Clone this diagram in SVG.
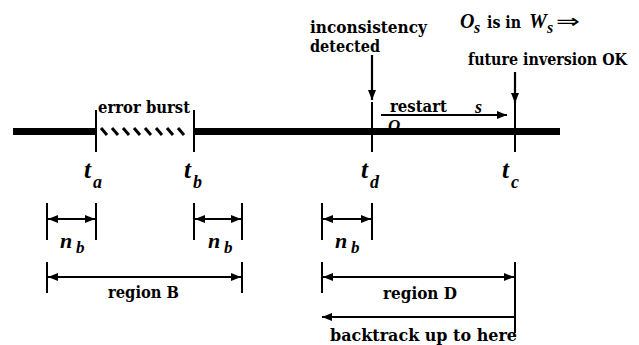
<svg xmlns="http://www.w3.org/2000/svg" width="639" height="345" viewBox="0 0 639 345">
<style>
.lbl{font-family:"DejaVu Serif","Liberation Serif",serif;font-size:16px;font-weight:bold;fill:#000}
.it{font-family:"Liberation Serif","DejaVu Serif",serif;font-style:italic;font-weight:bold;fill:#000}
.tk{stroke:#000;stroke-width:2;fill:none}
.ln{stroke:#000;stroke-width:2.2;fill:none}
</style>
<defs>
<marker id="ah" viewBox="0 0 10 8" refX="10" refY="4" markerWidth="10" markerHeight="8" markerUnits="userSpaceOnUse" orient="auto-start-reverse">
<path d="M0,0 L10,4 L0,8 Z" fill="#000"/>
</marker>
</defs>
<rect width="639" height="345" fill="#fff"/>
<text class="it" x="388" y="131" font-size="17">O</text>
<g id="timeline">
<line x1="13" y1="131.5" x2="96" y2="131.5" stroke="#000" stroke-width="7"/>
<line x1="194" y1="131.5" x2="560" y2="131.5" stroke="#000" stroke-width="7"/>
<g stroke="#000" stroke-width="3">
<line x1="101" y1="128" x2="107" y2="135"/>
<line x1="112" y1="128" x2="118" y2="135"/>
<line x1="123" y1="128" x2="129" y2="135"/>
<line x1="134" y1="128" x2="140" y2="135"/>
<line x1="145" y1="128" x2="151" y2="135"/>
<line x1="156" y1="128" x2="162" y2="135"/>
<line x1="167" y1="128" x2="173" y2="135"/>
<line x1="178" y1="128" x2="184" y2="135"/>
</g>
</g>
<g id="ticks">
<line class="tk" x1="96" y1="110" x2="96" y2="152"/>
<line class="tk" x1="194" y1="110" x2="194" y2="152"/>
<line class="tk" x1="372" y1="102" x2="372" y2="152"/>
<line class="tk" x1="515" y1="103" x2="515" y2="152"/>
</g>
<g id="error-burst"><text class="lbl" x="98" y="113" textLength="92" lengthAdjust="spacingAndGlyphs">error burst</text></g>
<g id="inconsistency">
<text class="lbl" x="310" y="33" textLength="117" lengthAdjust="spacingAndGlyphs">inconsistency</text>
<text class="lbl" x="310" y="52" textLength="70" lengthAdjust="spacingAndGlyphs">detected</text>
</g>
<g id="future">
<text class="it" x="460" y="28" font-size="20">O</text>
<text class="it" x="474" y="33" font-size="16">s</text>
<text class="lbl" x="487" y="28" textLength="34" lengthAdjust="spacingAndGlyphs">is in</text>
<text class="it" x="529" y="28" font-size="20">W</text>
<text class="it" x="547" y="33" font-size="16">s</text>
<text x="556" y="28" font-family="DejaVu Sans,sans-serif" font-size="20" textLength="24" lengthAdjust="spacingAndGlyphs">⇒</text>
<text class="lbl" x="468" y="65" textLength="159" lengthAdjust="spacingAndGlyphs">future inversion OK</text>
</g>
<g id="restart">
<text class="lbl" x="390" y="112" textLength="57" lengthAdjust="spacingAndGlyphs">restart</text>
<text class="it" x="475" y="113" font-size="18">s</text>
</g>
<g id="tlabels">
<text class="it" x="84" y="178" font-size="25">t</text><text class="it" x="93" y="188" font-size="18">a</text>
<text class="it" x="184" y="178" font-size="25">t</text><text class="it" x="193" y="188" font-size="18">b</text>
<text class="it" x="361" y="178" font-size="25">t</text><text class="it" x="370" y="188" font-size="18">d</text>
<text class="it" x="502" y="178" font-size="25">t</text><text class="it" x="511" y="188" font-size="18">c</text>
</g>
<g id="nb1">
<line class="tk" x1="47" y1="203" x2="47" y2="240"/>
<line class="tk" x1="96" y1="203" x2="96" y2="240"/>
<text class="it" x="60" y="248" font-size="22">n</text><text class="it" x="76" y="253" font-size="17">b</text>
</g>
<g id="nb2">
<line class="tk" x1="194" y1="203" x2="194" y2="240"/>
<line class="tk" x1="242" y1="203" x2="242" y2="240"/>
<text class="it" x="208" y="248" font-size="22">n</text><text class="it" x="224" y="253" font-size="17">b</text>
</g>
<g id="nb3">
<line class="tk" x1="322" y1="203" x2="322" y2="240"/>
<line class="tk" x1="372" y1="203" x2="372" y2="240"/>
<text class="it" x="335" y="248" font-size="22">n</text><text class="it" x="351" y="253" font-size="17">b</text>
</g>
<g id="regionB">
<line class="tk" x1="47" y1="262" x2="47" y2="293"/>
<line class="tk" x1="242" y1="262" x2="242" y2="293"/>
<text class="lbl" x="108" y="298" textLength="71" lengthAdjust="spacingAndGlyphs">region B</text>
</g>
<g id="regionD">
<line class="tk" x1="322" y1="262" x2="322" y2="293"/>
<line class="tk" x1="515" y1="262" x2="515" y2="333"/>
<text class="lbl" x="383" y="299" textLength="74" lengthAdjust="spacingAndGlyphs">region D</text>
<text class="lbl" x="330" y="341" textLength="187" lengthAdjust="spacingAndGlyphs">backtrack  up to here</text>
</g>
<g id="connectors">
<line class="ln" x1="372" y1="55" x2="372" y2="100" marker-end="url(#ah)"/>
<line class="ln" x1="515" y1="72" x2="515" y2="103" marker-end="url(#ah)"/>
<line class="ln" x1="381" y1="115" x2="507" y2="115" marker-end="url(#ah)"/>
<line class="ln" x1="48" y1="219" x2="95" y2="219" marker-start="url(#ah)" marker-end="url(#ah)"/>
<line class="ln" x1="195" y1="219" x2="241" y2="219" marker-start="url(#ah)" marker-end="url(#ah)"/>
<line class="ln" x1="323" y1="219" x2="371" y2="219" marker-start="url(#ah)" marker-end="url(#ah)"/>
<line class="ln" x1="48" y1="277" x2="241" y2="277" marker-start="url(#ah)" marker-end="url(#ah)"/>
<line class="ln" x1="323" y1="277" x2="514" y2="277" marker-start="url(#ah)" marker-end="url(#ah)"/>
<line class="ln" x1="515" y1="317" x2="322" y2="317" marker-end="url(#ah)"/>
</g>
</svg>
